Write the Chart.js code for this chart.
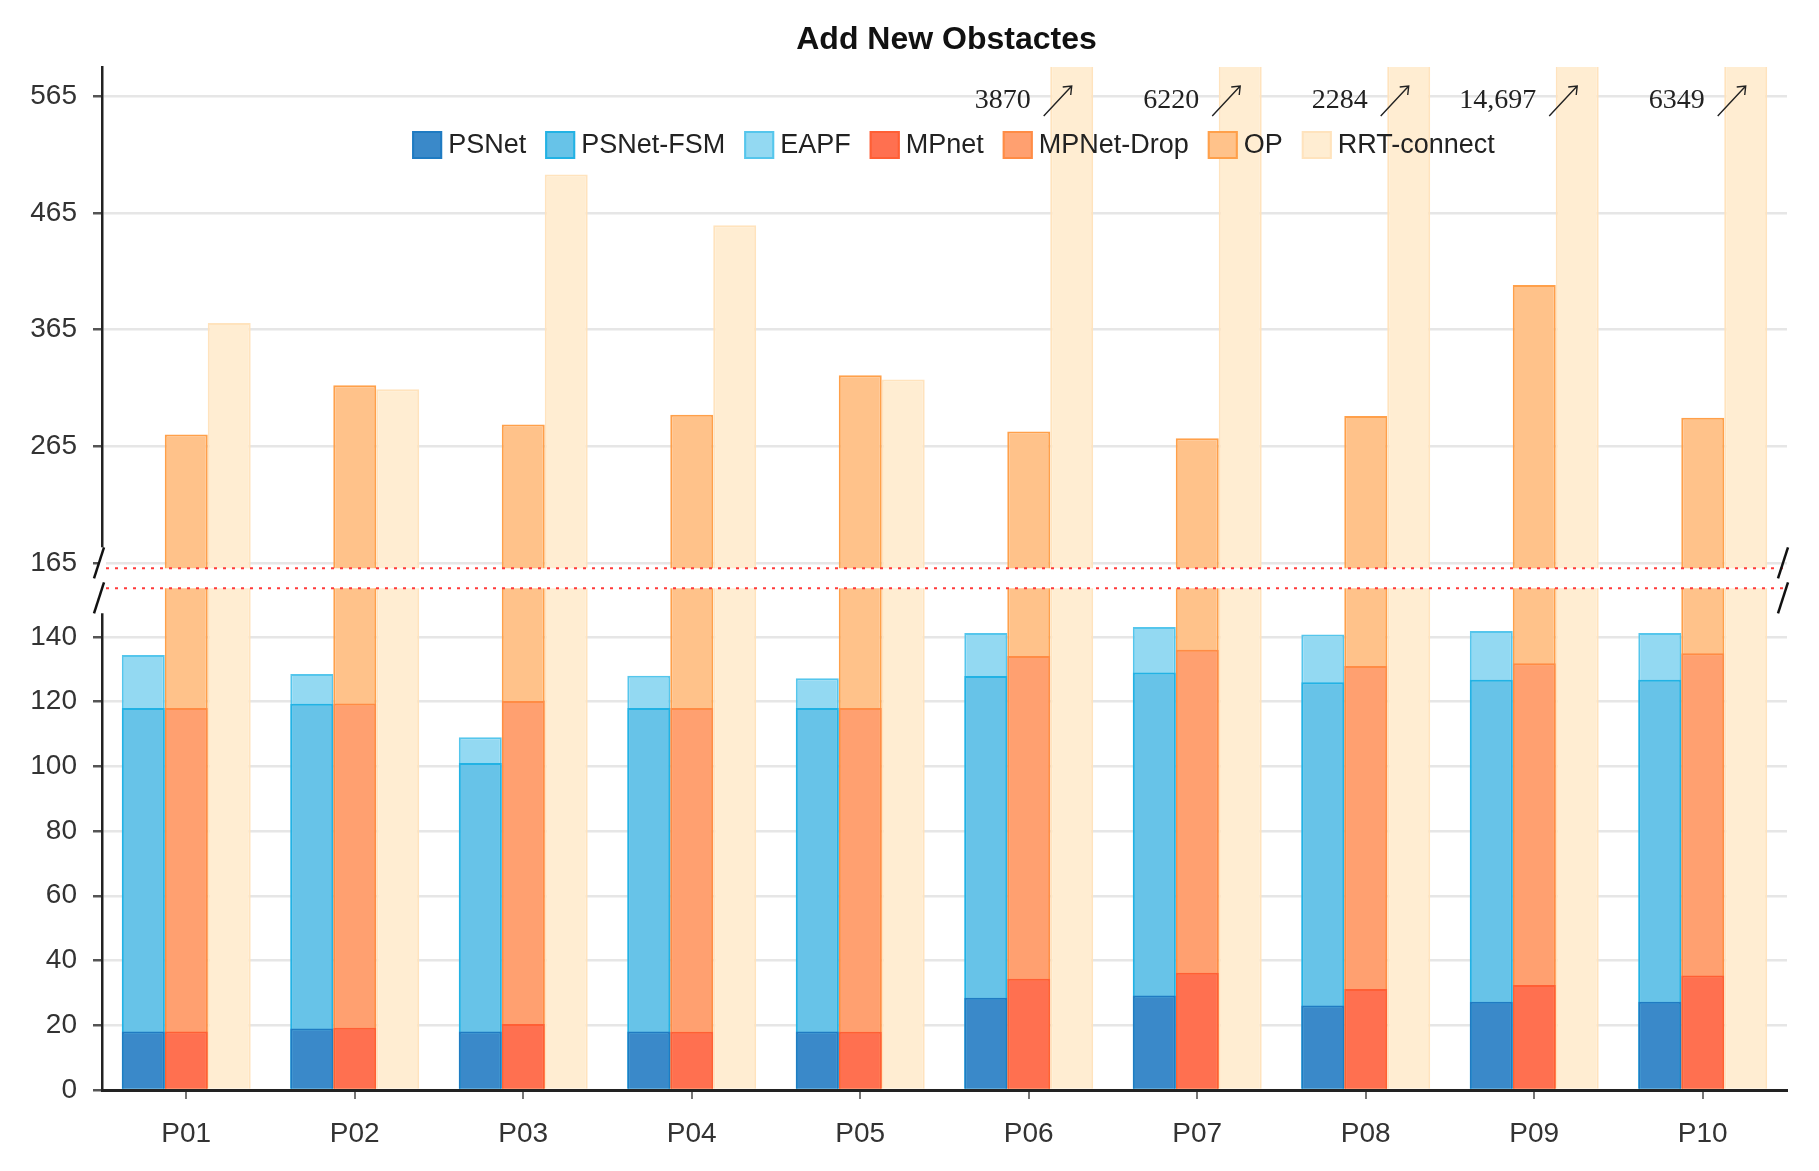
<!DOCTYPE html>
<html>
<head>
<meta charset="utf-8">
<script src="https://cdn.jsdelivr.net/npm/chart.js@4.4.1/dist/chart.umd.min.js"></script>
<style>
  html, body { margin: 0; padding: 0; background: #fff; }
  #chart { display: block; }
</style>
</head>
<body>
<canvas id="chart" width="1819" height="1171"></canvas>
<script>
// values (broken y axis: 0-155 below, 160-590 above)
const categories = ['P01', 'P02', 'P03', 'P04', 'P05', 'P06', 'P07', 'P08', 'P09', 'P10'];
const psnet     = [18.1, 19.0, 18.1, 18.1, 18.1, 28.5, 29.2, 26.1, 27.3, 27.3];
const psnetFsm  = [118, 119.3, 101, 118, 118, 127.9, 129, 126, 126.7, 126.7];
const eapf      = [134.4, 128.5, 109, 128, 127.2, 141.2, 143, 140.7, 141.8, 141.2];
const mpnet     = [18.1, 19.2, 20.4, 18, 18, 34.4, 36.2, 31.2, 32.4, 35.4];
const mpnetDrop = [118, 119.4, 120.2, 118, 118, 134.1, 136, 131, 131.8, 134.9];
const op        = [275.3, 317.5, 283.9, 292.2, 326, 277.8, 272.1, 291.2, 403.4, 289.7];
const rrtConnect = [370.8, 314, 498, 454.4, 322.3, 3870, 6220, 2284, 14697, 6349];
const rrtLabels = ['', '', '', '', '', '3870', '6220', '2284', '14,697', '6349'];
const lowTicks  = [0, 20, 40, 60, 80, 100, 120, 140];
const highTicks = [165, 265, 365, 465, 565];

// axis break mapping
const LOW_MAX = 155, HIGH_MIN = 160.7, TOP = 590;
const K_LOW = 3.238, K_HIGH = 1.168, GAP = 20;
function toAxis(v) {
  if (v <= LOW_MAX) return v * K_LOW;
  if (v < HIGH_MIN) return LOW_MAX * K_LOW + GAP / 2;
  return LOW_MAX * K_LOW + GAP + (Math.min(v, TOP + 10) - HIGH_MIN) * K_HIGH;
}
const tickValues = lowTicks.concat(highTicks);

const SANS = '"Liberation Sans", Arial, sans-serif';

function ds(label, values, stack, fill, border) {
  return {
    label: label,
    data: values.map(toAxis),
    stack: stack,
    backgroundColor: fill,
    borderColor: border,
    borderWidth: 2,
    clip: 0
  };
}

const datasets = [
  ds('PSNet', psnet, 'a', '#3a89c9', '#1f7bc2'),
  ds('PSNet-FSM', psnetFsm, 'a', '#67c3e8', '#22b2e4'),
  ds('EAPF', eapf, 'a', '#93d9f2', '#55c6ec'),
  ds('MPnet', mpnet, 'b', '#ff7050', '#ff5f35'),
  ds('MPNet-Drop', mpnetDrop, 'b', '#ffa070', '#ff8c45'),
  ds('OP', op, 'b', '#ffc28a', '#ffa04a'),
  ds('RRT-connect', rrtConnect, 'c', '#ffedd2', '#ffe3bd')
];

const breakPlugin = {
  id: 'axisBreak',
  afterDraw(chart) {
    const { ctx, chartArea: a, scales: { y } } = chart;
    const midX = (a.left + a.right) / 2;
    const yTop = y.getPixelForValue(LOW_MAX * K_LOW + GAP);
    const yBot = y.getPixelForValue(LOW_MAX * K_LOW);
    ctx.save();

    // title, centred on the plot area
    ctx.font = 'bold 32px ' + SANS;
    ctx.fillStyle = '#111';
    ctx.textAlign = 'center';
    ctx.textBaseline = 'middle';
    ctx.fillText('Add New Obstactes', midX + 2, 40);

    // white band of the break
    ctx.fillStyle = '#fff';
    ctx.fillRect(a.left + 2, yTop, a.right - a.left - 2, yBot - yTop);
    ctx.fillRect(a.left - 4, yTop - 21, 8, yBot - yTop + 46);
    // red dotted edges
    ctx.strokeStyle = '#ff3b3b';
    ctx.lineWidth = 2;
    ctx.setLineDash([3, 6]);
    [yTop, yBot].forEach(py => {
      ctx.beginPath();
      ctx.moveTo(a.left + 4, py);
      ctx.lineTo(a.right - 4, py);
      ctx.stroke();
    });
    ctx.setLineDash([]);
    // slashes
    ctx.strokeStyle = '#111';
    ctx.lineWidth = 2.5;
    [a.left + 1, a.right].forEach(px => {
      [[yTop - 21, yTop + 10], [yBot - 6, yBot + 25]].forEach(s => {
        ctx.beginPath();
        ctx.moveTo(px + 1, s[0]);
        ctx.lineTo(px - 9, s[1]);
        ctx.stroke();
      });
    });

    // legend drawn over the plot
    ctx.font = '27px ' + SANS;
    ctx.textBaseline = 'middle';
    ctx.textAlign = 'left';
    const boxW = 30, boxH = 28, gapIn = 6, gapOut = 19;
    const widths = datasets.map(d => boxW + gapIn + ctx.measureText(d.label).width);
    const total = widths.reduce((s, w) => s + w, 0) + gapOut * (datasets.length - 1);
    let lx = midX + 9 - total / 2;
    const ly = 145;
    datasets.forEach((d, i) => {
      ctx.fillStyle = d.backgroundColor;
      ctx.fillRect(lx, ly - boxH / 2, boxW, boxH);
      ctx.strokeStyle = d.borderColor;
      ctx.lineWidth = 2;
      ctx.strokeRect(lx + 1, ly - boxH / 2 + 1, boxW - 2, boxH - 2);
      ctx.fillStyle = '#222';
      ctx.fillText(d.label, lx + boxW + gapIn, ly + 1);
      lx += widths[i] + gapOut;
    });

    // off-scale values of RRT-connect
    const meta = chart.getDatasetMeta(6);
    ctx.font = '28px "Liberation Serif", "DejaVu Serif", serif';
    ctx.textAlign = 'right';
    ctx.fillStyle = '#222';
    ctx.strokeStyle = '#222';
    ctx.lineWidth = 1.4;
    rrtLabels.forEach((t, i) => {
      if (!t) return;
      const cx = meta.data[i].x;
      ctx.fillText(t, cx - 41, 101);
      const x1 = cx - 28, y1 = 116, x2 = cx, y2 = 86;
      ctx.beginPath();
      ctx.moveTo(x1, y1);
      ctx.lineTo(x2, y2);
      ctx.moveTo(x2 - 9, y2 + 1);
      ctx.lineTo(x2, y2);
      ctx.lineTo(x2 - 1, y2 + 9);
      ctx.stroke();
    });
    ctx.restore();
  }
};

new Chart(document.getElementById('chart'), {
  type: 'bar',
  data: { labels: categories, datasets: datasets },
  options: {
    responsive: false,
    animation: false,
    devicePixelRatio: 1,
    layout: { padding: { left: 0, right: 32, top: 67, bottom: 0 } },
    plugins: {
      legend: { display: false },
      tooltip: { enabled: false },
      title: { display: false }
    },
    datasets: {
      bar: { categoryPercentage: 0.765, barPercentage: 1.0 }
    },
    scales: {
      x: {
        stacked: true,
        afterFit: s => { s.height = 81; },
        grid: { drawOnChartArea: false, offset: false, tickLength: 9, tickColor: '#777', lineWidth: 2 },
        border: { color: '#222', width: 3, z: 1 },
        ticks: { color: '#333', font: { family: SANS, size: 28 }, padding: 18 }
      },
      y: {
        stacked: false,
        min: 0,
        max: toAxis(TOP),
        afterFit: s => { s.width = 102; },
        afterBuildTicks: s => { s.ticks = tickValues.map(v => ({ value: toAxis(v) })); },
        grid: { color: '#e6e6e6', lineWidth: 2.5, tickLength: 9, tickColor: '#555' },
        border: { color: '#222', width: 2.5, z: 1 },
        ticks: {
          autoSkip: false,
          color: '#333',
          padding: 16,
          font: { family: SANS, size: 28 },
          callback: (val, i) => tickValues[i]
        }
      }
    }
  },
  plugins: [breakPlugin]
});
</script>
</body>
</html>
